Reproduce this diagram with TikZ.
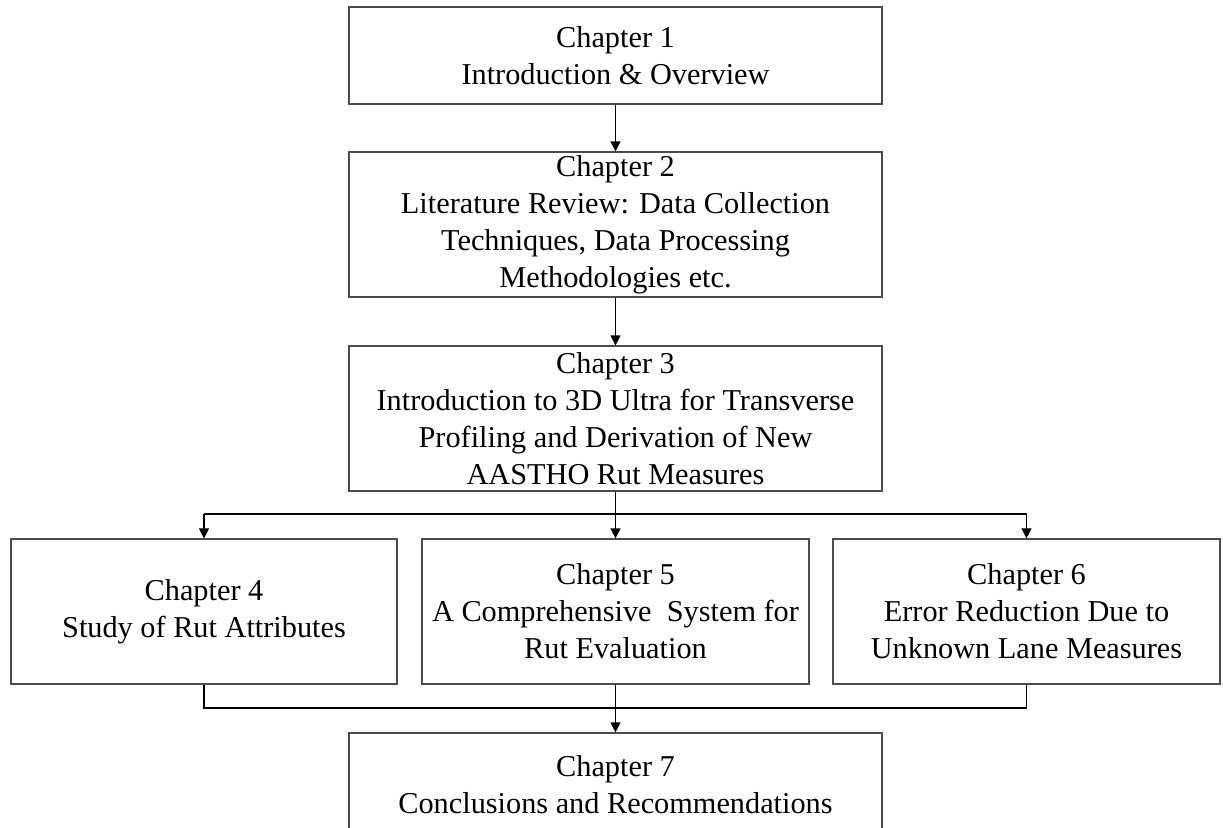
\documentclass[tikz,border=0pt]{standalone}
\usepackage{fontspec}
\setmainfont{Liberation Serif}
\usetikzlibrary{arrows.meta}
\begin{document}
\begin{tikzpicture}[x=1pt,y=-1pt,
  chbox/.style={draw=black!70, line width=1.2pt, align=center, inner sep=0pt,
    font=\fontsize{30.3pt}{37pt}\selectfont, text=black},
  arr/.style={draw=black, line width=1.2pt, -{Triangle[length=10pt,width=10pt]}},
  plain/.style={draw=black, line width=1.2pt}]
\useasboundingbox (0,0) rectangle (1223,827);
\node[chbox, minimum width=533pt, minimum height=97pt] (b1) at (615.5,55.5)
  {Chapter 1\\Introduction \& Overview};
\node[chbox, minimum width=533pt, minimum height=145pt] (b2) at (615.5,224.5)
  {Chapter 2\\Literature Review: Data Collection\\Techniques, Data Processing\\Methodologies etc.};
\node[chbox, minimum width=533pt, minimum height=145pt] (b3) at (615.5,418.5)
  {Chapter 3\\Introduction to 3D Ultra for Transverse\\Profiling and Derivation of New\\AASTHO Rut Measures};
\node[chbox, minimum width=386pt, minimum height=145pt] (b4) at (204,611.5)
  {Chapter 4\\Study of Rut Attributes};
\node[chbox, minimum width=387pt, minimum height=145pt] (b5) at (615.5,611.5)
  {Chapter 5\\A Comprehensive\ \ System for\\Rut Evaluation};
\node[chbox, minimum width=387pt, minimum height=145pt] (b6) at (1026.5,611.5)
  {Chapter 6\\Error Reduction Due to\\Unknown Lane Measures};
\node[chbox, minimum width=533pt, minimum height=103pt] (b7) at (615.5,784.5)
  {Chapter 7\\Conclusions and Recommendations};
\coordinate (bus1) at (615.5,514);
\coordinate (bus2) at (615.5,708);
\draw[arr] (b1.south) -- (b2.north);
\draw[arr] (b2.south) -- (b3.north);
\draw[plain] (b3.south) -- (bus1);
\draw[plain] (b4.north |- bus1) -- (b6.north |- bus1);
\draw[arr] (b4.north |- bus1) -- (b4.north);
\draw[arr] (bus1) -- (b5.north);
\draw[arr] (b6.north |- bus1) -- (b6.north);
\draw[plain] (b4.south) -- (b4.south |- bus2) -- (b6.south |- bus2) -- (b6.south);
\draw[arr] (b5.south) -- (b7.north);
\end{tikzpicture}
\end{document}
